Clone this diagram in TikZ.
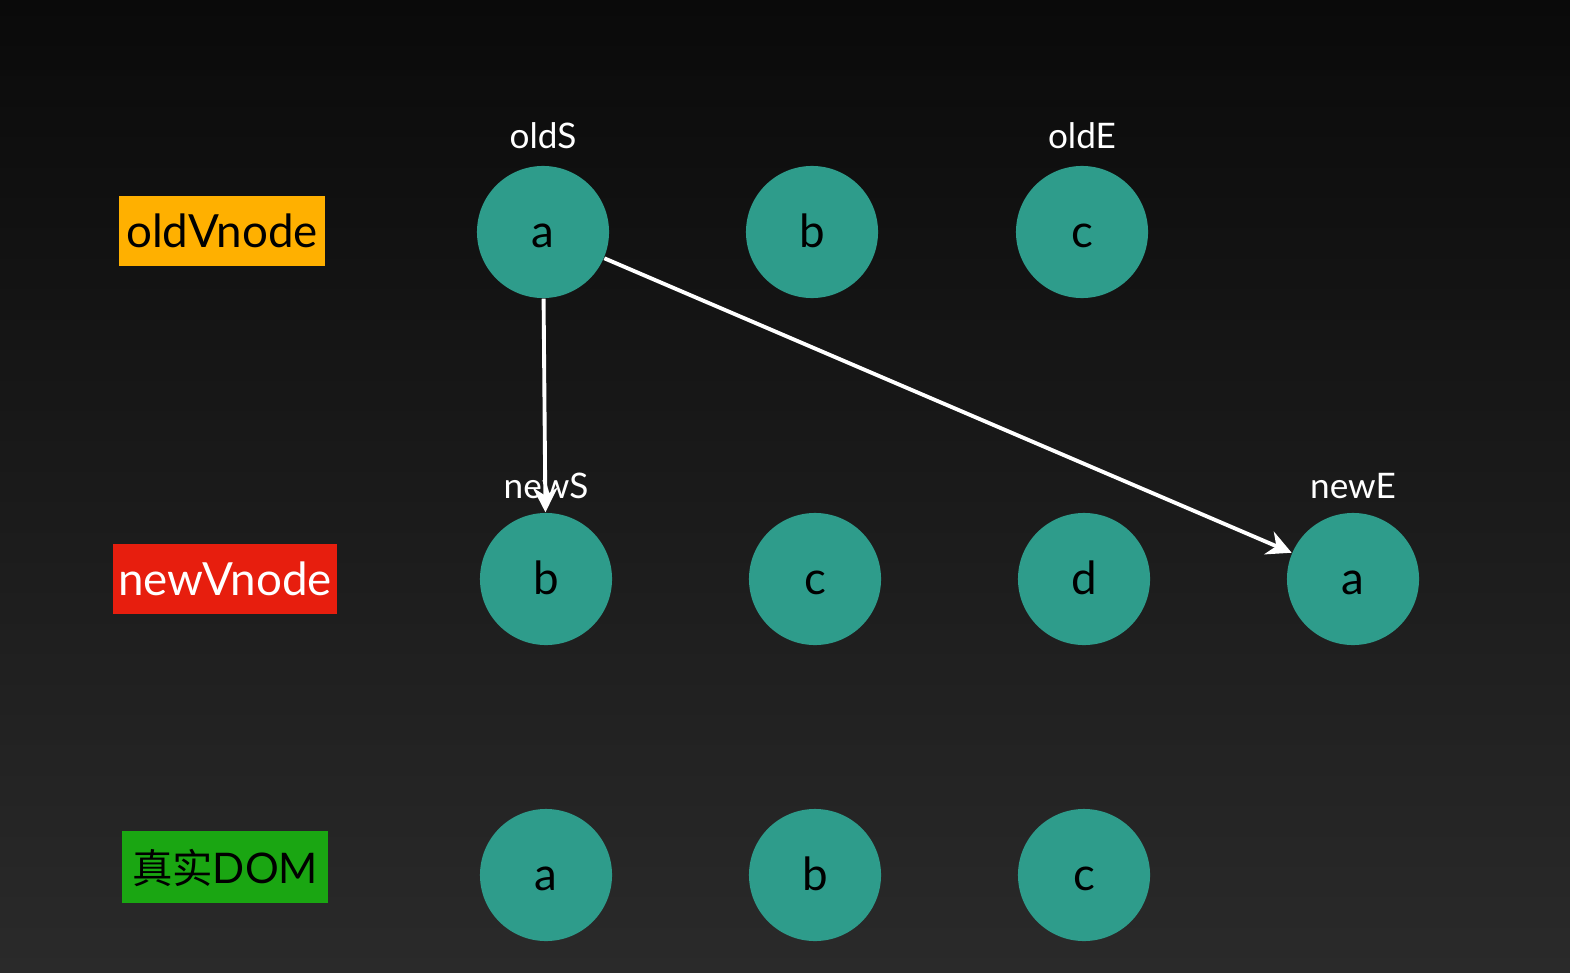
\documentclass[tikz,border=0pt]{standalone}
\usepackage{fontspec}
\setmainfont{Lato}
\newfontfamily\cjk{Noto Sans CJK SC}
\usetikzlibrary{arrows.meta}

\definecolor{teal1}{RGB}{46,156,139}
\definecolor{oldorange}{RGB}{255,176,0}
\definecolor{newred}{RGB}{231,30,14}
\definecolor{domgreen}{RGB}{26,166,18}
\definecolor{bgtop}{RGB}{10,10,10}
\definecolor{bgbot}{RGB}{42,42,42}

\begin{document}
\begin{tikzpicture}[x=0.01cm, y=-0.01cm,
    vnode/.style={circle, fill=teal1, minimum size=1.32cm, inner sep=0pt, text height=8.8pt, text depth=0pt, font=\fontsize{13}{15}\selectfont, text=black},
    tag/.style={minimum width=#1, minimum height=0.69cm, inner sep=0pt, text height=9.4pt, text depth=0pt, font=\fontsize{13}{15}\selectfont},
    ptr/.style={text=white, font=\fontsize{10}{12}\selectfont},
    move/.style={draw=white, line width=1.1pt, -{Stealth[length=7pt, width=7pt]}}]
    % Background
    \shade[top color=bgtop, bottom color=bgbot] (0,0) rectangle (1570,973);
    \useasboundingbox (0,0) rectangle (1570,973);

    % Row labels
    \node[tag=2.05cm, fill=oldorange, text=black] (oldlbl) at (222,231) {oldVnode};
    \node[tag=2.24cm, fill=newred, text=white] (newlbl) at (225,579) {newVnode};
    \node[tag=2.05cm, fill=domgreen, text=black, minimum height=0.72cm] (domlbl) at (225,867) {{\cjk\fontsize{11.5}{14}\selectfont 真实}\fontsize{12}{14}\selectfont DOM};

    % Old vnodes
    \node[vnode] (oa) at (543,232) {a};
    \node[vnode] (ob) at (812,232) {b};
    \node[vnode] (oc) at (1082,232) {c};

    % New vnodes
    \node[vnode] (nb) at (546,579) {b};
    \node[vnode] (nc) at (815,579) {c};
    \node[vnode] (nd) at (1084,579) {d};
    \node[vnode] (na) at (1353,579) {a};

    % Real DOM
    \node[vnode] (da) at (546,875) {a};
    \node[vnode] (db) at (815,875) {b};
    \node[vnode] (dc) at (1084,875) {c};

    % Pointers
    \node[ptr] (olds) at (543,136) {oldS};
    \node[ptr] (olde) at (1082,136) {oldE};
    \node[ptr] (news) at (546,486) {newS};
    \node[ptr] (newe) at (1353,486) {newE};

    % Moves
    \draw[move] (oa) -- (nb);
    \draw[move] (oa) -- (na);
\end{tikzpicture}
\end{document}
